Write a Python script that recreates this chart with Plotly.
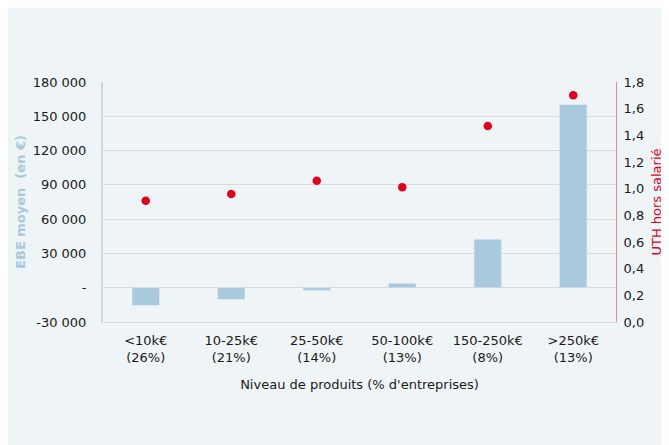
import plotly.graph_objects as go

# niveaux de produits et part des entreprises
categories = ['<10k€<br>(26%)', '10-25k€<br>(21%)', '25-50k€<br>(14%)',
              '50-100k€<br>(13%)', '150-250k€<br>(8%)', '>250k€<br>(13%)']
ebe_moyen = [-15500, -10200, -2400, 3800, 42300, 160300]
uth_hors_salarie = [0.91, 0.96, 1.06, 1.01, 1.47, 1.70]

left_ticks = [-30000, 0, 30000, 60000, 90000, 120000, 150000, 180000]
left_ticktext = ['-30 000', '-', '30 000', '60 000', '90 000', '120 000', '150 000', '180 000']
right_ticks = [0.0, 0.2, 0.4, 0.6, 0.8, 1.0, 1.2, 1.4, 1.6, 1.8]

BG = '#eff4f7'
BAR = '#a9cadc'
RED = '#e2001a'

fig = go.Figure()
fig.add_trace(go.Bar(x=categories, y=ebe_moyen, marker_color=BAR, name='EBE moyen',
                     hoverinfo='y'))
fig.add_trace(go.Scatter(x=categories, y=uth_hors_salarie, mode='markers', yaxis='y2',
                         marker=dict(color=RED, size=8.5), name='UTH hors salarié'))

# la page ajoute 8px de marge blanche autour de la figure
fig.update_layout(
    width=661, height=437,
    margin=dict(l=95, r=53, t=74, b=123),
    paper_bgcolor=BG,
    plot_bgcolor=BG,
    font=dict(family='DejaVu Sans, Verdana, sans-serif', size=13, color='#1a1a1a'),
    showlegend=False,
    bargap=0.68,
    separators=', ',
    xaxis=dict(
        title=dict(text="Niveau de produits (% d'entreprises)", standoff=16,
                   font=dict(size=13)),
        showline=True, linecolor='#d9d9d9', linewidth=1,
        showgrid=False, ticks='', tickangle=0, ticklabelstandoff=6,
        automargin=False,
    ),
    yaxis=dict(
        title=dict(text='<b>EBE moyen  (en €)</b>', font=dict(color=BAR, size=13), standoff=4),
        range=[-30000, 180000], tickvals=left_ticks, ticktext=left_ticktext,
        showline=True, linecolor='#c5dde8', linewidth=2,
        gridcolor='#dadada', gridwidth=1, zeroline=False,
        ticks='', ticklabelstandoff=12, automargin=False,
    ),
    yaxis2=dict(
        title=dict(text='UTH hors salarié', font=dict(color=RED, size=13), standoff=8),
        overlaying='y', side='right',
        range=[0, 1.8], tickvals=right_ticks, tickformat='.1f',
        showline=True, linecolor='#eb8a97', linewidth=1,
        showgrid=False, zeroline=False, ticks='', ticklabelstandoff=4,
        automargin=False,
    ),
)

fig.write_html('out.html')
